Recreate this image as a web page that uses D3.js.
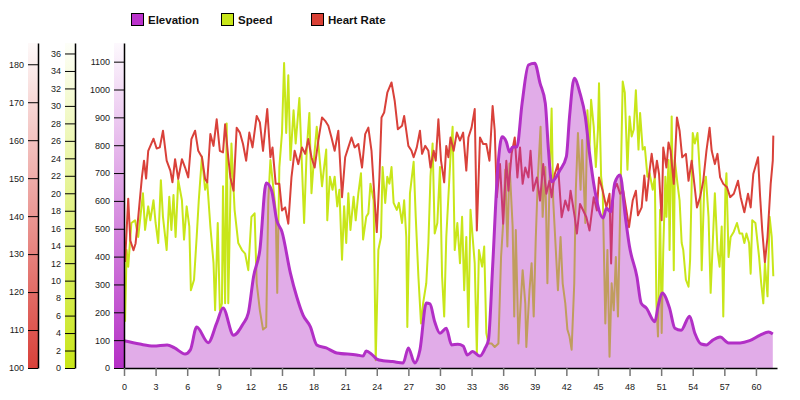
<!DOCTYPE html>
<html><head><meta charset="utf-8">
<script src="https://cdn.jsdelivr.net/npm/d3@7"></script>
<style>
body{margin:0;background:#fff;}
svg{display:block;font-family:"DejaVu Sans",sans-serif;}
.tick text{font-size:9px;fill:#1a1a1a;}
</style></head>
<body><svg id="c" width="800" height="400"></svg>
<script>
// Legend
const seriesNames = ["Elevation", "Speed", "Heart Rate"];
const seriesColors = ["#bb33cc", "#c8e619", "#d94035"];

// Tick labels
const hrTicks = [100,110,120,130,140,150,160,170,180];
const speedTicks = [0,2,4,6,8,10,12,14,16,18,20,22,24,26,28,30,32,34,36];
const elevTicks = [0,100,200,300,400,500,600,700,800,900,1000,1100];
const kmTicks = [0,3,6,9,12,15,18,21,24,27,30,33,36,39,42,45,48,51,54,57,60];

// Elevation (km, m)
const elevKm = [0,1.5,2.8,4.1,4.8,5.8,6.3,6.9,8.0,8.8,9.4,10.4,11.3,11.8,12.3,12.9,13.5,14.0,14.5,15.0,15.8,16.4,17.0,17.7,18.3,19.2,20.2,22.1,22.7,23.0,23.5,24.0,24.6,25.5,26.5,27.0,27.6,28.1,28.7,29.05,29.5,30.0,30.6,31.1,31.7,32.2,32.6,33.1,33.8,34.3,34.6,35.0,35.5,35.9,36.3,36.6,36.9,37.3,37.8,38.4,39.0,39.5,40.0,40.3,40.6,41.4,42.0,42.3,42.75,43.3,43.8,44.2,44.7,45.5,45.8,46.2,46.6,47.1,47.6,48.0,48.7,49.1,49.6,50.4,50.7,51.1,51.8,52.3,52.9,53.7,54.2,54.8,55.3,55.9,56.6,57.4,58.5,59.4,60.4,61.2,61.6];
const elevM = [98,86,79,83,72,50,65,147,91,161,215,118,158,197,328,424,664,639,531,489,341,256,190,148,83,72,54,47,43,61,50,32,26,23,18,72,18,65,233,230,166,125,143,83,85,79,47,59,43,72,100,364,723,830,812,776,794,794,951,1088,1094,1023,951,783,669,711,759,902,1040,986,902,771,639,539,574,561,664,693,543,435,328,233,215,166,220,269,215,143,136,186,125,86,83,100,111,90,90,98,118,129,122];

// Heart rate (km, bpm)
const hrKm = [0.1,0.4,0.6,0.9,1.1,1.35,1.7,1.9,2.1,2.3,2.8,3.1,3.4,3.7,4.05,4.4,4.6,4.85,5.15,5.5,5.8,6.1,6.4,6.75,7.05,7.4,7.7,7.9,8.2,8.5,8.8,9.1,9.4,9.6,9.9,10.1,10.4,10.7,11.0,11.3,11.6,11.9,12.2,12.6,12.9,13.2,13.6,13.9,14.1,14.4,14.75,15.0,15.3,15.6,15.9,16.2,16.55,16.9,17.2,17.5,17.8,18.1,18.45,18.8,19.1,19.4,19.7,20.0,20.35,20.7,21.0,21.3,21.6,21.9,22.25,22.6,22.9,23.2,23.5,23.8,24.0,24.25,24.45,24.7,25.0,25.4,25.7,26.0,26.4,26.6,26.8,27.0,27.3,27.5,27.8,28.1,28.3,28.6,28.9,29.1,29.4,29.6,29.85,30.1,30.4,30.6,30.8,31.0,31.3,31.6,31.9,32.2,32.5,32.7,33.0,33.3,33.5,33.8,34.1,34.4,34.7,35.0,35.2,35.4,35.7,36.0,36.3,36.5,36.8,37.1,37.35,37.6,37.85,38.1,38.4,38.6,38.85,39.2,39.5,39.8,40.1,40.4,40.6,40.9,41.2,41.55,41.9,42.2,42.4,42.8,43.0,43.3,43.6,43.9,44.2,44.6,44.9,45.1,45.45,45.8,46.1,46.25,46.45,46.8,47.1,47.4,47.7,47.95,48.3,48.6,48.8,49.15,49.4,49.6,49.9,50.1,50.4,50.6,50.8,51.05,51.2,51.5,51.7,51.9,52.2,52.5,52.75,53.0,53.35,53.6,53.9,54.15,54.4,54.7,55.0,55.3,55.6,55.8,56.1,56.35,56.6,56.9,57.25,57.55,57.9,58.3,58.55,58.9,59.25,59.5,59.75,60.2,60.4,60.6,60.85,61.1,61.4,61.6,61.65];
const hrBpm = [127.9,144.6,133.6,131,132.8,139.7,150.2,154.6,149.9,157.2,160.4,157.8,158.1,162.5,154.6,152,148.9,155,149.8,155,152.8,150.2,160.3,162.5,157.2,155.5,149.8,148.9,161.6,158.5,165.5,157.2,156.8,164.2,155.5,150.2,146.7,163.3,162,159,154.6,162,158.1,166.4,164.7,157.2,168.2,155.5,158.1,148.5,148.5,141.5,142.3,138,150.2,157.2,153.7,158.1,156.4,160.3,155.5,152.8,159.9,166,165.1,163.8,160.7,157.2,162.5,145,155.5,158.1,160.7,158.1,159,152.8,161.6,163.3,157.2,144.1,135.8,150.2,166,167.3,172.5,175.2,170.4,162.9,163.8,166.4,162.5,158.5,157.2,155.5,158.1,162.5,156.4,158.5,157.2,152.8,157.2,154.6,165.5,154.6,148.9,158.5,155.5,160.7,157.2,162,159.9,162,152,160.7,163.3,168.2,136.2,160.7,159,159,154.6,169,162.5,145,153.7,138,154.6,146.7,156.4,160.7,150.2,158.1,148.5,152.8,150.2,157.2,146.7,150.2,144.1,153.7,145.9,149.3,145,151.1,153.7,139.7,144.1,141.5,146.7,139.7,135.4,143.2,141.5,139.7,136.2,145,141.5,150.2,146.7,142.3,145.9,127.5,146.7,148.5,145.9,146.7,141.5,137.1,144.1,146.7,140.2,142.3,150.7,144.1,152,156.4,150.2,154.6,151.1,138.9,158.1,152.8,159.4,157.2,148.5,166,162.5,155.5,156.4,149.3,154.6,148.5,142.3,145,149.3,157.2,163.3,157.2,153.7,156.4,150.2,148.5,147.6,145,145.9,149.3,145,141,145.9,142.3,151.1,155.5,145,136.2,127.9,134.5,148.5,154.6,161.2];

// Speed (km, km/h)
const speedKm = [0.1,0.25,0.4,0.7,1.05,1.35,1.8,2.0,2.3,2.5,2.8,3.0,3.25,3.5,3.7,4.05,4.3,4.5,4.7,4.9,5.15,5.5,5.7,5.95,6.2,6.35,6.65,6.9,7.1,7.4,7.7,7.9,8.2,8.5,8.65,8.9,9.1,9.3,9.4,9.6,9.75,9.9,10.2,10.5,10.85,11.2,11.5,11.8,12.1,12.4,12.6,12.9,13.2,13.5,13.7,13.9,14.2,14.4,14.55,14.75,15.0,15.2,15.4,15.6,15.8,16.1,16.3,16.65,16.9,17.1,17.35,17.6,17.8,18.0,18.3,18.5,18.8,19.0,19.2,19.3,19.55,19.8,20.0,20.25,20.45,20.7,20.9,21.1,21.3,21.5,21.8,22.0,22.25,22.5,22.7,23.0,23.2,23.4,23.7,23.9,24.15,24.4,24.55,24.8,25.0,25.2,25.4,25.6,25.9,26.1,26.4,26.6,26.8,26.9,27.15,27.5,27.7,27.95,28.2,28.4,28.7,28.9,29.1,29.3,29.5,29.75,30.0,30.2,30.4,30.6,30.8,31.0,31.2,31.4,31.65,31.9,32.1,32.3,32.5,32.7,32.9,33.1,33.3,33.5,33.7,34.0,34.2,34.4,34.6,34.9,35.2,35.55,35.8,36.0,36.2,36.4,36.6,36.9,37.05,37.2,37.45,37.7,37.85,38.1,38.2,38.5,38.7,38.9,39.1,39.3,39.55,39.75,40.0,40.2,40.4,40.6,40.75,41.0,41.2,41.45,41.65,41.9,42.1,42.3,42.5,42.75,42.9,43.1,43.35,43.5,43.8,44.0,44.2,44.35,44.6,44.8,45.0,45.1,45.3,45.45,45.7,45.9,46.1,46.3,46.5,46.7,46.9,47.15,47.35,47.55,47.8,48.0,48.2,48.4,48.6,48.85,49.0,49.25,49.45,49.7,49.9,50.2,50.4,50.55,50.7,50.9,51.05,51.2,51.4,51.5,51.7,51.8,52.0,52.2,52.3,52.55,52.75,52.95,53.1,53.35,53.6,53.75,54.0,54.2,54.45,54.7,54.85,55.1,55.25,55.5,55.7,55.9,56.1,56.35,56.55,56.75,56.9,57.1,57.2,57.4,57.6,57.9,58.2,58.45,58.7,58.9,59.1,59.35,59.5,59.65,59.95,60.3,60.5,60.7,60.85,61.1,61.3,61.5,61.65];
const speedKmh = [5.3,13.5,11.6,16.6,16.9,15,20,15.8,18.5,16.9,19.2,16.6,14.3,21.5,17.3,13.5,19.6,15.8,19.8,15,21.5,19.2,14.7,18.5,16.2,8.9,10.1,15,19.2,24.2,20.4,21.3,16.2,12,6.6,16.6,6.6,7.4,20.8,7.4,28,7.4,25.7,18.1,14.3,13.5,13.1,11.2,17.3,17.7,9.7,6.6,4.4,4.7,19.2,23.8,20.4,18.1,8.6,23,26.9,34.9,26.9,33.5,23.8,29.5,25.7,30.9,23,16.6,25,29.2,20,23.4,27.6,25,20.8,23,25,16.9,21.9,20.4,21.9,18.5,20.4,12.4,18.5,14.3,20,15.8,19.6,16.9,20,22.3,14.7,17.3,17.7,21.1,19.2,0.9,13.5,15,23,18.9,21.9,21.1,23,18.9,18.1,18.9,16.6,19.2,15,4.7,20,23.6,17.3,10.5,5.1,7.4,9.7,14.3,21.9,25.7,15.4,16.6,23,10.5,5.9,15,19.6,24.2,27.6,13.5,16.6,12,17.3,8.9,15,4.7,18.1,15,12,1.7,13.5,11.6,13.9,4,2.8,2.8,2.4,2.8,12.7,16.6,22.7,13.9,23.4,16.2,5.9,15.8,2.8,8.2,11.2,7.4,2.4,8.9,12,5.9,15,21.9,27.6,17.3,23,9.7,21.1,29.7,19.2,13.5,8.9,15,9.7,7.4,4.4,3.6,2.1,9.7,20.4,26.9,20.4,26.1,16.6,29.5,25,30.7,27.6,23,27.3,32.6,21.9,20.4,5.1,13.5,1.3,9.7,6.6,12.7,5.9,20.4,32.8,31.5,22.7,28.8,26.5,27.3,31.8,25,29.2,25,25.3,21.9,22.3,20.4,21.9,7.4,3.6,18.1,4,13.5,21.9,17.3,23.8,13.5,28.8,11.2,23.8,21.1,19.2,14.3,13.5,10.1,9.3,12.4,26.9,25.7,26.9,21.9,11.2,21.1,21.9,17.3,8.6,14.3,20,13.5,11.6,16.2,5.9,20.4,22.3,12.7,15,15.6,16.6,15.4,15.4,14.3,15.4,14.3,10.8,16.9,16.6,12.7,9.7,7.4,12,8.2,17.3,15,10.5];

const svg = d3.select("#c");
const yTop = 43, yBot = 368;
const x = d3.scaleLinear().domain([0, 62]).range([124, 777]);
const yHR = d3.scaleLinear().domain([100, 185.6]).range([yBot, yTop]);
const ySp = d3.scaleLinear().domain([0, 37.2]).range([yBot, yTop]);
const yEl = d3.scaleLinear().domain([0, 1167]).range([yBot, yTop]);

// gradients
const defs = svg.append("defs");
function grad(id, color) {
  const g = defs.append("linearGradient").attr("id", id).attr("x1", 0).attr("y1", 1).attr("x2", 0).attr("y2", 0);
  g.append("stop").attr("offset", "0%").attr("stop-color", color).attr("stop-opacity", 1);
  g.append("stop").attr("offset", "100%").attr("stop-color", color).attr("stop-opacity", 0.03);
}
grad("gHR", "#d9413a");
grad("gSp", "#c8e619");
grad("gEl", "#b52fc6");

const bars = [["gHR", 38], ["gSp", 75], ["gEl", 124]];
bars.forEach(([id, ax]) => {
  svg.append("rect").attr("x", ax - 10).attr("y", yTop).attr("width", 10).attr("height", yBot - yTop).attr("fill", `url(#${id})`);
});

// series
const spData = speedKm.map((k, i) => [k, speedKmh[i]]);
const hrData = hrKm.map((k, i) => [k, hrBpm[i]]);
const elData = elevKm.map((k, i) => [k, elevM[i]]);

svg.append("path").datum(spData)
  .attr("d", d3.line().x(d => x(d[0])).y(d => ySp(d[1])))
  .attr("fill", "none").attr("stroke", "#c8e619").attr("stroke-width", 2).attr("stroke-linejoin", "round");
svg.append("path").datum(hrData)
  .attr("d", d3.line().x(d => x(d[0])).y(d => yHR(d[1])))
  .attr("fill", "none").attr("stroke", "#d9413a").attr("stroke-width", 2).attr("stroke-linejoin", "round");
svg.append("path").datum(elData)
  .attr("d", d3.area().curve(d3.curveMonotoneX).x(d => x(d[0])).y0(yBot).y1(d => yEl(d[1])))
  .attr("fill", "#b52fc6").attr("fill-opacity", 0.4);
svg.append("path").datum(elData)
  .attr("d", d3.line().curve(d3.curveMonotoneX).x(d => x(d[0])).y(d => yEl(d[1])))
  .attr("fill", "none").attr("stroke", "#b22fc6").attr("stroke-width", 3).attr("stroke-linejoin", "round");

// axes
function yAxis(scale, ticks, ax) {
  const g = svg.append("g").attr("transform", `translate(${ax},0)`)
    .call(d3.axisLeft(scale).tickValues(ticks).tickFormat(d3.format("d")).tickSize(10).tickSizeOuter(0).tickPadding(4));
  g.select(".domain").attr("stroke", "#000").attr("stroke-width", 1.5);
  g.selectAll(".tick line").attr("stroke", "#000");
}
yAxis(yHR, hrTicks, 38);
yAxis(ySp, speedTicks, 75);
yAxis(yEl, elevTicks, 124);

const xg = svg.append("g").attr("transform", `translate(0,${yBot})`)
  .call(d3.axisBottom(x).tickValues(kmTicks).tickFormat(d3.format("d")).tickSize(8).tickSizeOuter(0).tickPadding(8));
xg.select(".domain").attr("stroke", "#000").attr("stroke-width", 1.5);
xg.selectAll(".tick line").attr("stroke", "#777").attr("stroke-width", 1.5);

// legend
const legX = [131, 221, 311];
seriesNames.forEach((n, i) => {
  svg.append("rect").attr("x", legX[i] + 0.5).attr("y", 13.5).attr("width", 12).attr("height", 12)
    .attr("fill", seriesColors[i]).attr("stroke", "#000").attr("stroke-width", 1);
  svg.append("text").attr("x", legX[i] + 17).attr("y", 24).text(n)
    .attr("font-family", "Liberation Sans, Arial, sans-serif").attr("font-weight", "bold").attr("font-size", "11.5px").attr("fill", "#111");
});
</script></body></html>
